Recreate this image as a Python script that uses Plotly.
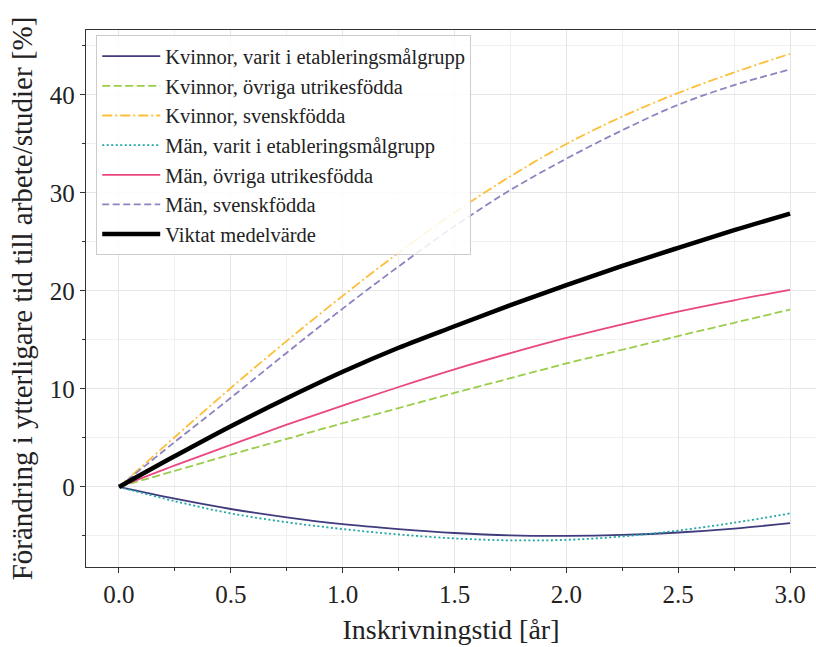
import plotly.graph_objects as go

x = [0.0, 0.25, 0.5, 0.75, 1.0, 1.25, 1.5, 1.75, 2.0, 2.25, 2.5, 2.75, 3.0]

kvinnor_etabl = [0.0, -1.2, -2.25, -3.1, -3.8, -4.3, -4.7, -4.95, -5.0, -4.9, -4.65, -4.25, -3.7]
kvinnor_ovriga = [0.0, 1.65, 3.3, 4.9, 6.5, 8.05, 9.6, 11.1, 12.6, 14.0, 15.4, 16.75, 18.1]
kvinnor_svensk = [0.0, 5.1, 10.1, 14.9, 19.5, 23.9, 28.0, 31.7, 35.0, 37.8, 40.2, 42.3, 44.2]
man_etabl = [0.0, -1.45, -2.7, -3.6, -4.3, -4.85, -5.25, -5.45, -5.4, -5.05, -4.45, -3.65, -2.7]
man_ovriga = [0.0, 2.2, 4.3, 6.35, 8.3, 10.2, 12.0, 13.65, 15.2, 16.6, 17.9, 19.05, 20.1]
man_svensk = [0.0, 4.6, 9.1, 13.7, 18.2, 22.5, 26.6, 30.3, 33.5, 36.4, 39.0, 41.0, 42.6]
viktat = [0.0, 3.15, 6.2, 9.05, 11.75, 14.2, 16.4, 18.55, 20.6, 22.55, 24.4, 26.2, 27.9]

series = [
    ("Kvinnor, varit i etableringsmålgrupp", kvinnor_etabl, "#3f3b7d", "solid", 1.8),
    ("Kvinnor, övriga utrikesfödda", kvinnor_ovriga, "#9acd48", "8px,3.5px", 1.8),
    ("Kvinnor, svenskfödda", kvinnor_svensk, "#fdbf3a", "10px,3px,2px,3px", 1.8),
    ("Män, varit i etableringsmålgrupp", man_etabl, "#1ea5a5", "2px,2.5px", 1.8),
    ("Män, övriga utrikesfödda", man_ovriga, "#ea4781", "solid", 1.8),
    ("Män, svenskfödda", man_svensk, "#8d83c0", "7px,3.5px", 1.8),
    ("Viktat medelvärde", viktat, "#000000", "solid", 4.5),
]

FONT = "Liberation Serif, serif"

fig = go.Figure()
for name, ys, col, dash, w in series:
    fig.add_trace(go.Scatter(
        x=x, y=ys, mode="lines", name=name,
        line=dict(color=col, dash=dash, width=w, shape="spline", smoothing=1.0),
    ))

fig.update_layout(
    width=816, height=647,
    margin=dict(l=86, r=0, t=30, b=80),
    paper_bgcolor="white", plot_bgcolor="white",
    font=dict(family=FONT, color="#222222", size=25),
    showlegend=True,
    legend=dict(
        x=0.014, y=0.99, xanchor="left", yanchor="top",
        bgcolor="rgba(255,255,255,0.85)", bordercolor="#cccccc", borderwidth=1,
        font=dict(family=FONT, size=20.5, color="#222222"),
        tracegroupgap=0, itemwidth=58,
    ),
    xaxis=dict(
        range=[-0.1475, 3.116], tickvals=[0, 0.5, 1, 1.5, 2, 2.5, 3],
        ticktext=["0.0", "0.5", "1.0", "1.5", "2.0", "2.5", "3.0"],
        showline=True, linecolor="#333333", linewidth=1.3, mirror=True,
        ticks="outside", ticklen=5, tickcolor="#333333", tickwidth=1.2,
        showgrid=True, gridcolor="#e6e6e6", gridwidth=1,
        zeroline=False,
        minor=dict(dtick=0.25, tick0=0, ticks="outside", ticklen=3, tickcolor="#333333",
                   showgrid=True, gridcolor="#f0f0f0", gridwidth=1),
        title=dict(text="Inskrivningstid [år]", font=dict(size=28), standoff=12),
        tickfont=dict(size=25),
    ),
    yaxis=dict(
        range=[-8.17, 46.63], tickvals=[0, 10, 20, 30, 40],
        showline=True, linecolor="#333333", linewidth=1.3,
        ticks="outside", ticklen=5, tickcolor="#333333", tickwidth=1.2,
        showgrid=True, gridcolor="#e6e6e6", gridwidth=1,
        zeroline=False,
        minor=dict(dtick=5, tick0=0, ticks="outside", ticklen=3, tickcolor="#333333",
                   showgrid=True, gridcolor="#f0f0f0", gridwidth=1),
        title=dict(text="Förändring i ytterligare tid till arbete/studier [%]",
                   font=dict(size=29), standoff=8),
        tickfont=dict(size=25),
    ),
)

fig.write_html("out.html")
